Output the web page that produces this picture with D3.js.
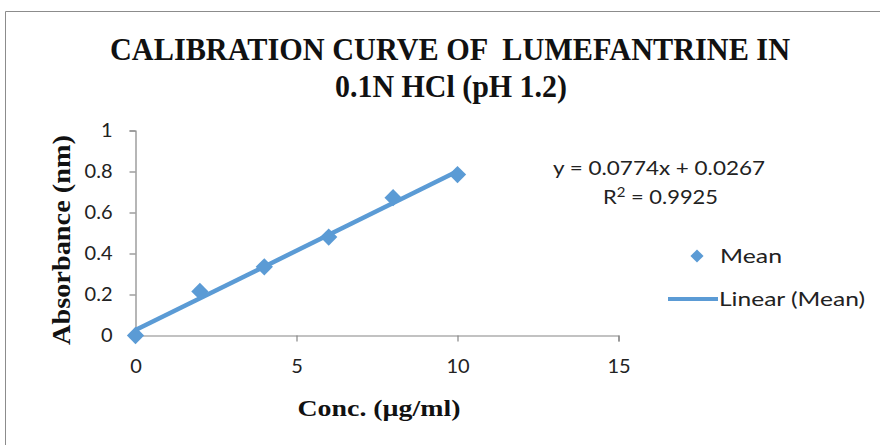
<!DOCTYPE html>
<html>
<head>
<meta charset="utf-8">
<script src="https://cdn.jsdelivr.net/npm/d3@7"></script>
<style>
  html, body { margin: 0; padding: 0; background: #fff; }
  svg { display: block; }
  text { white-space: pre; }
</style>
</head>
<body>
<svg id="chart" width="880" height="445"></svg>
<script>
// Calibration data: concentration (µg/ml) vs mean absorbance
const conc = [0, 2, 4, 6, 8, 10];
const absorbance = [0, 0.215, 0.335, 0.48, 0.672, 0.785];

// Linear trendline coefficients
const slope = 0.0774;
const intercept = 0.0267;
const rSquared = 0.9925;

const xTicks = [0, 5, 10, 15];
const yTicks = [0, 0.2, 0.4, 0.6, 0.8, 1];

const titleLines = ["CALIBRATION CURVE OF  LUMEFANTRINE IN", "0.1N HCl (pH 1.2)"];
const xTitle = "Conc. (µg/ml)";
const yTitle = "Absorbance (nm)";
const legendLabels = ["Mean", "Linear (Mean)"];

const blue = "#5B9BD5";
const axisGray = "#868686";
const serif = "'Liberation Serif', 'Times New Roman', serif";
const sans = "Lato, 'Open Sans', sans-serif";

const svg = d3.select("#chart");

// chart area frame (top and left edges visible)
svg.append("path")
  .attr("d", "M5.5,445 L5.5,11.5 L880,11.5")
  .attr("fill", "none")
  .attr("stroke", "#8c8c8c")
  .attr("stroke-width", 1);

const x = d3.scaleLinear().domain([0, 15]).range([135.5, 618.5]);
const y = d3.scaleLinear().domain([0, 1]).range([335.5, 130.5]);

// axes
const xAxis = svg.append("g")
  .attr("transform", `translate(0,${y(0)})`)
  .call(d3.axisBottom(x).tickValues(xTicks).tickSize(6).tickPadding(15).tickFormat(d3.format("d")));
const yAxis = svg.append("g")
  .attr("transform", `translate(${x(0)},0)`)
  .call(d3.axisLeft(y).tickValues(yTicks).tickSize(6).tickPadding(17)
    .tickFormat(d => d === 0 || d === 1 ? String(d) : d.toFixed(1)));

[xAxis, yAxis].forEach(g => {
  g.select(".domain").attr("stroke", axisGray).attr("stroke-width", 1.2);
  g.selectAll(".tick line").attr("stroke", axisGray).attr("stroke-width", 1.2);
  g.selectAll(".tick text")
    .attr("fill", "#222")
    .style("font-family", sans)
    .style("font-size", "20px");
});
xAxis.selectAll(".tick text").attr("dy", "0.8em");

// trendline from the fitted equation
const fitX = d3.extent(conc);
svg.append("line")
  .attr("x1", x(fitX[0])).attr("y1", y(slope * fitX[0] + intercept))
  .attr("x2", x(fitX[1])).attr("y2", y(slope * fitX[1] + intercept))
  .attr("stroke", blue)
  .attr("stroke-width", 4.5)
  .attr("stroke-linecap", "butt");

// markers
const diamond = d3.symbol().type(d3.symbolDiamond2).size(190);
svg.append("g").selectAll("path")
  .data(conc.map((c, i) => [c, absorbance[i]]))
  .join("path")
  .attr("d", diamond)
  .attr("transform", d => `translate(${x(d[0])},${y(d[1])})`)
  .attr("fill", blue);

// title
svg.append("text")
  .attr("x", 450).attr("y", 60)
  .attr("text-anchor", "middle")
  .attr("textLength", 680).attr("lengthAdjust", "spacingAndGlyphs")
  .style("font-family", serif).style("font-weight", "bold").style("font-size", "31px")
  .attr("fill", "#111")
  .text(titleLines[0]);
svg.append("text")
  .attr("x", 451).attr("y", 97)
  .attr("text-anchor", "middle")
  .attr("textLength", 232).attr("lengthAdjust", "spacingAndGlyphs")
  .style("font-family", serif).style("font-weight", "bold").style("font-size", "31px")
  .attr("fill", "#111")
  .text(titleLines[1]);

// axis titles
svg.append("text")
  .attr("x", 379).attr("y", 416)
  .attr("text-anchor", "middle")
  .attr("textLength", 163).attr("lengthAdjust", "spacingAndGlyphs")
  .style("font-family", serif).style("font-weight", "bold").style("font-size", "24px")
  .attr("fill", "#111")
  .text(xTitle);
svg.append("text")
  .attr("transform", "translate(70,240) rotate(-90)")
  .attr("text-anchor", "middle")
  .attr("textLength", 210).attr("lengthAdjust", "spacingAndGlyphs")
  .style("font-family", serif).style("font-weight", "bold").style("font-size", "25px")
  .attr("fill", "#111")
  .text(yTitle);

// equation label
const eq = svg.append("g")
  .style("font-family", sans).style("font-size", "19px").attr("fill", "#222");
eq.append("text")
  .attr("x", 553).attr("y", 175)
  .attr("textLength", 212).attr("lengthAdjust", "spacingAndGlyphs")
  .text(`y = ${slope}x + ${intercept}`);
const r2 = eq.append("text")
  .attr("x", 603).attr("y", 204)
  .attr("textLength", 115).attr("lengthAdjust", "spacingAndGlyphs");
r2.append("tspan").text("R");
r2.append("tspan").attr("dy", -7).style("font-size", "13px").text("2");
r2.append("tspan").attr("dy", 7).text(` = ${rSquared}`);

// legend
const legend = svg.append("g")
  .style("font-family", sans).style("font-size", "19px").attr("fill", "#222");
legend.append("path")
  .attr("d", d3.symbol().type(d3.symbolDiamond2).size(110))
  .attr("transform", "translate(697,256)")
  .attr("fill", blue);
legend.append("text").attr("x", 720).attr("y", 263)
  .attr("textLength", 62).attr("lengthAdjust", "spacingAndGlyphs")
  .text(legendLabels[0]);
legend.append("line")
  .attr("x1", 668).attr("x2", 718).attr("y1", 299).attr("y2", 299)
  .attr("stroke", blue).attr("stroke-width", 4);
legend.append("text").attr("x", 719).attr("y", 306)
  .attr("textLength", 146).attr("lengthAdjust", "spacingAndGlyphs")
  .text(legendLabels[1]);
</script>
</body>
</html>
